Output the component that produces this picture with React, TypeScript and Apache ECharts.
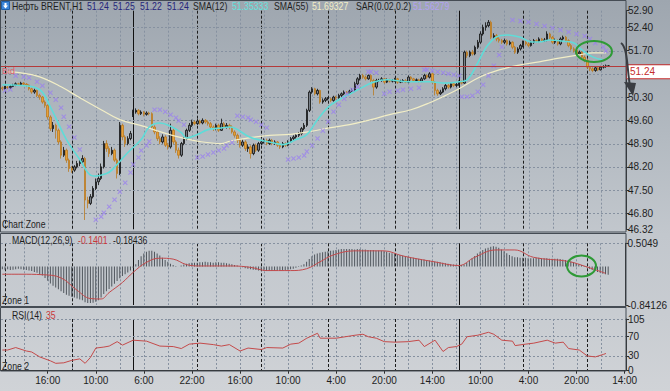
import React, { useEffect, useRef } from 'react';
import * as echarts from 'echarts';

const FONT = "'Liberation Sans', Arial, sans-serif";

// [open, close, low, high] per H1 candle
const ohlc: number[][] = [
  // 0
  [50.58, 50.55, 50.50, 50.62], [50.55, 50.60, 50.52, 50.64], [50.60, 50.58, 50.54, 50.63], [50.58, 50.62, 50.55, 50.66], [50.62, 50.66, 50.60, 50.70],
  [50.66, 50.70, 50.63, 50.74], [50.70, 50.68, 50.64, 50.73], [50.68, 50.72, 50.65, 50.76], [50.72, 50.69, 50.64, 50.75], [50.69, 50.66, 50.60, 50.72],
  // 10
  [50.66, 50.55, 50.50, 50.68], [50.55, 50.45, 50.40, 50.58], [50.45, 50.50, 50.40, 50.55], [50.50, 50.35, 50.30, 50.52], [50.35, 50.30, 50.22, 50.40],
  [50.30, 50.15, 50.10, 50.33], [50.15, 50.05, 49.98, 50.20], [50.05, 49.70, 49.62, 50.08], [49.70, 49.35, 49.28, 49.75], [49.35, 49.45, 49.25, 49.55],
  // 20
  [49.45, 49.30, 49.05, 49.50], [49.30, 48.95, 48.88, 49.35], [48.95, 48.55, 48.45, 49.00], [48.55, 48.70, 48.50, 48.80], [48.70, 48.40, 48.32, 48.75],
  [48.40, 48.15, 48.05, 48.45], [48.15, 48.10, 48.02, 48.22], [48.10, 48.20, 48.05, 48.25], [48.20, 48.30, 48.15, 48.38], [48.30, 48.35, 48.22, 48.42],
  // 30
  [48.35, 48.45, 48.30, 48.55], [48.45, 47.20, 46.60, 48.50], [47.20, 47.10, 46.95, 47.30], [47.10, 47.30, 47.05, 47.38], [47.30, 47.55, 47.25, 47.62],
  [47.55, 47.75, 47.50, 47.85], [47.75, 47.85, 47.65, 48.00], [47.85, 48.20, 47.80, 48.30], [48.20, 48.90, 48.15, 48.98], [48.90, 48.75, 48.65, 49.00],
  // 40
  [48.75, 48.60, 48.50, 48.82], [48.60, 48.70, 48.55, 48.80], [48.70, 48.40, 48.35, 48.75], [48.40, 48.00, 47.85, 48.45], [48.00, 49.45, 47.95, 49.55],
  [49.45, 49.10, 49.00, 49.50], [49.10, 48.90, 48.80, 49.15], [48.90, 49.05, 48.85, 49.12], [49.05, 49.20, 49.00, 49.28], [49.75, 49.85, 49.70, 49.92],
  // 50
  [49.85, 49.90, 49.80, 49.96], [49.90, 49.80, 49.75, 49.94], [49.80, 49.85, 49.76, 49.90], [49.85, 49.78, 49.72, 49.88], [49.78, 49.82, 49.74, 49.87],
  [49.82, 49.80, 49.75, 49.86], [49.80, 49.40, 49.35, 49.84], [49.40, 49.25, 49.18, 49.45], [49.25, 49.05, 48.98, 49.30], [49.05, 48.95, 48.88, 49.12],
  // 60
  [48.95, 49.10, 48.90, 49.18], [49.10, 48.85, 48.80, 49.15], [48.85, 48.80, 48.72, 48.92], [48.80, 49.30, 48.75, 49.50], [49.30, 48.95, 48.88, 49.35],
  [48.95, 48.70, 48.62, 49.00], [48.70, 48.55, 48.45, 48.78], [48.55, 48.90, 48.50, 48.95], [48.90, 49.05, 48.85, 49.10], [49.05, 49.30, 49.00, 49.35],
  // 70
  [49.30, 49.45, 49.25, 49.52], [49.45, 49.55, 49.40, 49.62], [49.55, 49.50, 49.45, 49.60], [49.50, 49.58, 49.46, 49.64], [49.58, 49.52, 49.47, 49.62],
  [49.52, 49.60, 49.48, 49.66], [49.60, 49.55, 49.50, 49.64], [49.55, 49.50, 49.44, 49.60], [49.50, 49.40, 49.35, 49.55], [49.40, 49.35, 49.28, 49.45],
  // 80
  [49.35, 49.45, 49.30, 49.50], [49.45, 49.30, 49.25, 49.50], [49.30, 49.50, 49.28, 49.65], [49.50, 49.40, 49.35, 49.55], [49.40, 49.45, 49.35, 49.52],
  [49.45, 49.40, 49.33, 49.50], [49.40, 49.25, 49.20, 49.45], [49.25, 49.15, 49.08, 49.30], [49.15, 49.00, 48.92, 49.20], [49.00, 48.85, 48.78, 49.05],
  // 90
  [48.85, 48.95, 48.80, 49.02], [48.95, 48.75, 48.68, 49.00], [48.75, 48.80, 48.65, 48.88], [48.80, 48.60, 48.45, 48.85], [48.60, 48.85, 48.55, 48.90],
  [48.85, 48.70, 48.65, 48.90], [48.70, 48.90, 48.65, 48.95], [48.90, 48.95, 48.85, 49.02], [48.95, 49.00, 48.90, 49.06], [49.00, 48.90, 48.85, 49.05],
  // 100
  [48.90, 49.00, 48.86, 49.05], [49.00, 48.90, 48.85, 49.04], [48.90, 48.95, 48.86, 49.00], [48.95, 48.85, 48.80, 48.98], [48.85, 48.80, 48.74, 48.90],
  [48.80, 48.90, 48.76, 48.95], [48.90, 48.85, 48.80, 48.94], [48.85, 48.95, 48.82, 49.00], [48.95, 49.05, 48.92, 49.10], [49.05, 49.10, 49.00, 49.15],
  // 110
  [49.10, 49.15, 49.05, 49.20], [49.15, 49.20, 49.10, 49.25], [49.20, 49.35, 49.15, 49.40], [49.35, 49.45, 49.30, 49.52], [49.45, 49.90, 49.40, 49.95],
  [49.90, 50.45, 49.85, 50.50], [50.45, 50.55, 50.40, 50.60], [50.55, 50.40, 50.35, 50.58], [50.40, 50.50, 50.35, 50.55], [50.50, 50.15, 50.10, 50.52],
  // 120
  [50.15, 50.20, 50.10, 50.26], [50.20, 50.25, 50.15, 50.30], [50.25, 50.25, 50.20, 50.30], [50.25, 50.20, 50.15, 50.28], [50.20, 50.30, 50.16, 50.34],
  [50.30, 50.28, 50.22, 50.34], [50.28, 50.35, 50.25, 50.40], [50.35, 50.40, 50.30, 50.44], [50.40, 50.45, 50.36, 50.50], [50.45, 50.42, 50.38, 50.48],
  // 130
  [50.42, 50.48, 50.38, 50.52], [50.48, 50.50, 50.44, 50.56], [50.50, 50.70, 50.46, 50.76], [50.70, 50.85, 50.66, 50.90], [50.85, 50.95, 50.80, 51.00],
  [50.95, 50.90, 50.85, 51.00], [50.90, 50.85, 50.80, 50.95], [50.85, 50.95, 50.82, 50.98], [50.95, 50.80, 50.75, 50.98], [50.80, 50.60, 50.35, 50.85],
  // 140
  [50.60, 50.80, 50.55, 50.85], [50.80, 50.80, 50.75, 50.85], [50.80, 50.85, 50.76, 50.90], [50.85, 50.75, 50.70, 50.88], [50.75, 50.82, 50.72, 50.86],
  [50.82, 50.78, 50.74, 50.85], [50.78, 50.80, 50.74, 50.84], [50.80, 50.85, 50.76, 50.88], [50.85, 50.75, 50.70, 50.88], [50.75, 50.78, 50.72, 50.82],
  // 150
  [50.78, 50.80, 50.74, 50.84], [50.80, 50.75, 50.72, 50.84], [50.75, 50.90, 50.72, 50.95], [50.90, 50.85, 50.80, 50.93], [50.85, 50.80, 50.76, 50.88],
  [50.80, 50.82, 50.76, 50.86], [50.82, 50.78, 50.74, 50.85], [50.78, 50.85, 50.75, 50.90], [50.85, 50.95, 50.82, 51.00], [50.95, 50.90, 50.85, 50.98],
  // 160
  [50.90, 51.00, 50.86, 51.05], [51.00, 50.75, 50.70, 51.02], [50.75, 50.50, 50.35, 50.78], [50.50, 50.40, 50.34, 50.55], [50.40, 50.45, 50.36, 50.52],
  [50.45, 50.55, 50.42, 50.60], [50.55, 50.65, 50.50, 50.70], [50.65, 50.60, 50.55, 50.70], [50.60, 50.70, 50.56, 50.75], [50.70, 50.65, 50.60, 50.74],
  // 170
  [50.65, 50.68, 50.60, 50.72], [50.68, 50.75, 50.64, 50.80], [50.75, 50.72, 50.68, 50.80], [50.72, 51.65, 50.70, 51.70], [51.65, 51.55, 51.48, 51.70],
  [51.55, 51.65, 51.50, 51.70], [51.65, 51.60, 51.55, 51.72], [51.60, 51.80, 51.56, 51.85], [51.80, 51.95, 51.75, 52.02], [51.95, 52.20, 51.90, 52.28],
  // 180
  [52.20, 52.40, 52.15, 52.48], [52.40, 52.45, 52.30, 52.55], [52.45, 52.55, 52.40, 52.62], [52.55, 52.10, 52.05, 52.60], [52.10, 52.15, 52.02, 52.22],
  [52.15, 52.05, 51.98, 52.20], [52.05, 52.00, 51.94, 52.10], [52.00, 51.95, 51.90, 52.05], [51.95, 52.00, 51.90, 52.06], [52.00, 51.90, 51.85, 52.04],
  // 190
  [51.90, 51.95, 51.86, 52.00], [51.95, 51.80, 51.74, 51.98], [51.80, 51.65, 51.60, 51.84], [51.65, 51.75, 51.60, 51.80], [51.75, 51.85, 51.70, 51.90],
  [51.85, 51.95, 51.80, 52.00], [51.95, 51.90, 51.85, 52.00], [51.90, 51.85, 51.80, 51.95], [51.85, 51.95, 51.82, 52.00], [51.95, 52.00, 51.90, 52.05],
  // 200
  [52.00, 51.98, 51.94, 52.04], [51.98, 52.05, 51.95, 52.10], [52.05, 52.00, 51.96, 52.08], [52.00, 52.02, 51.96, 52.08], [52.02, 52.20, 51.98, 52.28],
  [52.20, 52.10, 52.05, 52.24], [52.10, 51.95, 51.90, 52.14], [51.95, 52.00, 51.90, 52.06], [52.00, 51.90, 51.85, 52.04], [51.90, 52.05, 51.86, 52.10],
  // 210
  [52.05, 52.10, 52.00, 52.15], [52.10, 52.00, 51.95, 52.14], [52.00, 51.85, 51.80, 52.04], [51.85, 51.75, 51.70, 51.90], [51.75, 51.70, 51.64, 51.80],
  [51.70, 51.60, 51.55, 51.74], [51.60, 51.65, 51.56, 51.70], [51.65, 51.50, 51.45, 51.68], [51.50, 51.40, 51.35, 51.55], [51.40, 51.20, 51.15, 51.45],
  // 220
  [51.20, 51.15, 51.08, 51.24], [51.15, 51.10, 51.05, 51.20], [51.10, 51.18, 51.06, 51.22], [51.18, 51.12, 51.08, 51.22], [51.12, 51.20, 51.10, 51.24],
  [51.20, 51.22, 51.16, 51.26], [51.22, 51.24, 51.18, 51.28], [51.24, 51.24, 51.22, 51.25],
];

// [candle index, value]
const sma12: number[][] = [
  [0, 50.67], [7, 50.65], [14, 50.52], [18, 50.0], [24, 49.02], [29, 48.42], [33, 47.95], [35, 47.92], [39, 48.0], [41, 48.1],
  [47, 48.63], [52, 49.02], [55, 49.4], [59, 49.52], [63, 49.42], [67, 49.23], [69, 49.07], [73, 49.17], [77, 49.32], [82, 49.37],
  [85, 49.4], [93, 49.08], [100, 48.95], [105, 48.87], [110, 49.02], [114, 49.17], [118, 49.62], [122, 50.0], [126, 50.22], [131, 50.43],
  [135, 50.6], [139, 50.75], [144, 50.82], [152, 50.76], [160, 50.76], [166, 50.72], [171, 50.76], [174, 50.82], [178, 51.33], [181, 51.78],
  [185, 52.11], [189, 52.17], [194, 52.1], [198, 51.96], [201, 51.96], [205, 52.02], [210, 51.98], [214, 51.93], [217, 51.72], [221, 51.51],
  [225, 51.42],
];

const sma55: number[][] = [
  [2, 51.06], [7, 51.03], [14, 50.91], [22, 50.61], [29, 50.28], [37, 49.92], [44, 49.62], [52, 49.44], [59, 49.26], [67, 49.08],
  [74, 48.96], [82, 48.9], [85, 48.97], [93, 49.08], [100, 49.15], [108, 49.18], [115, 49.26], [123, 49.38], [130, 49.47], [138, 49.62],
  [145, 49.77], [153, 49.92], [160, 50.13], [166, 50.35], [171, 50.55], [179, 50.91], [186, 51.12], [194, 51.27], [201, 51.36], [209, 51.48],
  [216, 51.57], [221, 51.63], [226, 51.63],
];

const sar: number[][] = [
  [1, 50.5], [3, 50.53],
  [5, 50.94], [8, 50.91], [10, 50.88], [13, 50.76], [15, 50.64], [18, 50.43], [20, 50.22], [22, 49.98], [23, 49.71], [25, 49.41], [27, 49.08], [29, 48.72],
  [35, 46.61], [37, 46.7], [38, 46.82], [40, 47.0], [42, 47.21], [44, 47.45], [46, 47.72], [48, 48.03], [49, 48.27], [51, 48.48], [52, 48.69], [54, 48.84], [55, 48.96],
  [57, 49.92], [59, 49.92], [61, 49.86], [63, 49.77], [65, 49.68], [66, 49.59], [68, 49.47],
  [73, 48.48], [75, 48.51], [77, 48.57], [79, 48.63], [81, 48.69], [83, 48.75], [84, 48.84], [86, 48.93],
  [88, 49.74], [90, 49.71], [92, 49.68], [93, 49.62], [95, 49.56], [97, 49.47], [99, 49.38],
  [107, 48.42], [109, 48.45], [111, 48.48], [113, 48.54], [114, 48.66], [116, 48.84], [118, 49.05], [120, 49.29], [122, 49.56], [124, 49.86], [126, 50.07], [128, 50.25], [129, 50.4], [131, 50.52], [133, 50.61],
  [137, 51.06], [138, 51.06], [140, 51.03],
  [143, 50.4], [145, 50.46], [148, 50.49], [150, 50.52], [153, 50.55], [156, 50.58],
  [158, 51.12], [159, 51.12], [161, 51.09], [163, 51.06], [165, 51.03], [167, 51.0], [169, 50.97], [171, 50.94],
  [172, 50.31], [174, 50.31], [176, 50.34], [178, 50.46], [180, 50.67], [182, 50.94], [184, 51.24], [186, 51.57], [187, 51.81],
  [191, 52.62], [194, 52.59], [197, 52.56], [200, 52.5], [203, 52.44], [206, 52.38], [209, 52.32], [212, 52.26], [215, 52.2], [218, 52.14], [220, 52.05], [222, 51.93], [225, 51.81], [226, 51.69],
];

const macdHist: number[] = [
  -0.06, -0.07, -0.06, -0.08, -0.07, -0.06, -0.05, -0.06, -0.07, -0.08, -0.09, -0.10, -0.12, -0.14, -0.17, -0.20,
  -0.25, -0.31, -0.37, -0.42,
  -0.46, -0.50, -0.54, -0.58, -0.62,
  -0.64, -0.66, -0.68, -0.70, -0.72, -0.74, -0.78, -0.80,
  -0.80, -0.79, -0.77, -0.74,
  -0.68, -0.60, -0.54, -0.49,
  -0.44, -0.38, -0.32, -0.26,
  -0.21, -0.17, -0.13, -0.09, -0.03,
  0.05, 0.14, 0.22, 0.28, 0.32, 0.34,
  0.34, 0.32, 0.28, 0.24, 0.19, 0.14, 0.10, 0.06,
  0.03, 0.01, 0.0, 0.02, 0.04, 0.06, 0.07, 0.08, 0.08,
  0.08, 0.09, 0.09, 0.10, 0.09, 0.09, 0.08, 0.09, 0.09, 0.08, 0.08, 0.07, 0.06, 0.05, 0.03, 0.02, 0.0,
  -0.02, -0.04, -0.05, -0.06, -0.07, -0.08, -0.09, -0.09, -0.10, -0.10,
  -0.10, -0.10, -0.09, -0.09, -0.09, -0.08, -0.08, -0.07, -0.06, -0.05, -0.03, -0.01,
  0.02, 0.05, 0.10, 0.16, 0.22, 0.26, 0.28, 0.30, 0.31, 0.32, 0.33, 0.34, 0.35,
  0.36, 0.37, 0.38, 0.38, 0.38, 0.38, 0.38, 0.37, 0.38, 0.38, 0.37, 0.37, 0.36, 0.36, 0.36, 0.35, 0.35, 0.34, 0.33,
  0.32, 0.30, 0.29, 0.28, 0.26, 0.25, 0.24, 0.22, 0.21, 0.20, 0.19, 0.18, 0.17, 0.16, 0.15, 0.14, 0.13, 0.12, 0.11, 0.10, 0.09, 0.08, 0.07, 0.06, 0.05, 0.04, 0.03, 0.02,
  0.03, 0.04, 0.08,
  0.13, 0.18, 0.23, 0.28, 0.32, 0.36, 0.39, 0.41, 0.43, 0.44, 0.43, 0.41,
  0.37, 0.33, 0.29, 0.25, 0.22,
  0.20, 0.20, 0.19, 0.19, 0.19, 0.18, 0.18, 0.18, 0.19, 0.19, 0.18, 0.18, 0.18, 0.17, 0.17, 0.17, 0.17, 0.16, 0.15, 0.14, 0.13,
  0.11, 0.09, 0.07, 0.05, 0.03, 0.01, -0.02, -0.05,
  -0.08, -0.10, -0.12, -0.14, -0.16, -0.17, -0.18,
];

const macdSignal: number[][] = [
  [0, -0.17], [7, -0.17], [15, -0.18], [22, -0.25], [28, -0.52], [33, -0.7], [37, -0.71], [40, -0.57], [45, -0.35], [49, -0.13],
  [54, 0.09], [59, 0.18], [64, 0.16], [69, 0.04], [74, 0.01], [86, 0.01], [93, -0.02], [99, -0.09], [108, -0.09], [114, -0.05],
  [119, 0.1], [124, 0.25], [132, 0.34], [143, 0.34], [150, 0.23], [162, 0.1], [171, 0.02], [177, 0.2], [185, 0.36], [192, 0.36],
  [199, 0.2], [212, 0.11], [219, -0.01], [226, -0.15],
];

const rsi: number[][] = [
  [0, 42], [2, 42], [5, 47], [9, 40], [11, 38], [14, 28], [18, 20], [20, 15], [23, 16], [26, 21],
  [29, 24], [31, 15], [33, 27], [35, 46], [38, 48], [40, 50], [43, 59], [45, 52], [49, 62], [54, 60],
  [59, 50], [64, 49], [67, 45], [70, 54], [74, 56], [79, 53], [82, 50], [85, 53], [89, 40], [92, 46],
  [97, 43], [99, 47], [105, 46], [108, 54], [111, 56], [114, 66], [118, 76], [119, 66], [125, 66], [132, 72],
  [135, 74], [137, 69], [140, 66], [143, 59], [147, 58], [152, 59], [156, 62], [158, 49], [162, 62], [165, 39],
  [167, 47], [170, 49], [172, 54], [174, 69], [178, 72], [182, 78], [184, 74], [187, 62], [191, 60], [192, 51],
  [196, 54], [199, 56], [204, 62], [207, 56], [210, 58], [212, 45], [216, 42], [219, 30], [222, 28], [225, 33],
  [226, 35],
];

const timeLabels = ['16:00', '10:00', '6:00', '22:00', '16:00', '10:00', '4:00', '20:00', '14:00', '10:00', '4:00', '20:00', '14:00'];
const priceLabels = [46.32, 46.8, 47.5, 48.2, 48.9, 49.6, 50.3, 51.7, 52.4, 52.9];
const priceGrid = [46.8, 47.5, 48.2, 48.9, 49.6, 50.3, 51.0, 51.7, 52.4];
const macdRange = [-0.84126, 0.5049];
const rsiLabels = [0, 30, 70, 105];
const rsiGrid = [30, 70, 105];
const headerOHLC = [51.24, 51.25, 51.22, 51.24];
const lastPrice = 51.24;
const daySeparators = [1, 26, 73, 97, 122, 147, 195, 219];
const weekSeparators = [49, 171];

const N = 234;
const LABEL_START = 17;
const LABEL_STEP = 18;
const categories = Array.from({ length: N }, (_, i) => String(i));
const isLabelIdx = (i: number) => i >= LABEL_START && (i - LABEL_START) % LABEL_STEP === 0;

const lightLines: number[][] = [];
for (let i = 8; i < 230; i += 9) lightLines.push([i, 0]);
const vLines = [...lightLines, ...daySeparators.map((i) => [i, 1]), ...weekSeparators.map((i) => [i, 2])];

const vStyles = [
  { stroke: '#8691a0', lineWidth: 1, lineDash: [2, 2] },
  { stroke: '#1c1c1c', lineWidth: 1, lineDash: [3, 2] },
  { stroke: '#111111', lineWidth: 1 },
];
const hStyle = { stroke: '#8691a0', lineWidth: 1, lineDash: [2, 2] };

function renderV(params: any, api: any) {
  const cs = params.coordSys;
  const x = Math.round(api.coord([api.value(0), 0])[0]) + 0.5;
  return { type: 'line', silent: true, shape: { x1: x, y1: cs.y, x2: x, y2: cs.y + cs.height }, style: vStyles[api.value(1)] };
}
function renderH(params: any, api: any) {
  const cs = params.coordSys;
  const y = Math.round(api.coord([0, api.value(1)])[1]) + 0.5;
  return { type: 'line', silent: true, shape: { x1: cs.x, y1: y, x2: cs.x + cs.width, y2: y }, style: hStyle };
}

const axisTextStyle = { color: '#1e1e1e', fontSize: 10, fontFamily: FONT };

// narrow terminal-style text: regular font squeezed horizontally
function txt(x: number, y: number, text: string, fill = '#1e1e1e') {
  return {
    type: 'text', x, y, z: 50, silent: true, scaleX: 0.83,
    style: { text, fill, fontSize: 10.5, fontFamily: FONT, verticalAlign: 'middle' },
  };
}

const gridDefs = [
  { left: 1, right: 44, top: 10.7, height: 218.6 },
  { left: 1, right: 44, top: 243.3, height: 61.7 },
  { left: 1, right: 44, top: 319, height: 51.7 },
];

function gridSeries(g: number, hVals: number[]) {
  return [
    { type: 'custom', xAxisIndex: g, yAxisIndex: g, z: 0, silent: true, renderItem: renderV, data: vLines },
    { type: 'custom', xAxisIndex: g, yAxisIndex: g, z: 0, silent: true, renderItem: renderH, data: hVals.map((v) => [0, v]) },
  ];
}

const option: any = {
  animation: false,
  backgroundColor: 'transparent',
  grid: gridDefs,
  xAxis: [0, 1, 2].map((g) => ({
    type: 'category',
    gridIndex: g,
    data: categories,
    boundaryGap: true,
    show: g === 2,
    axisLine: { show: true, lineStyle: { color: '#2a2a2a' } },
    axisTick: { show: true, interval: isLabelIdx, alignWithLabel: true, length: 3, lineStyle: { color: '#2a2a2a' } },
    axisLabel: {
      ...axisTextStyle,
      interval: isLabelIdx,
      margin: 5,
      formatter: (_v: string, i: number) => (isLabelIdx(i) ? timeLabels[(i - LABEL_START) / LABEL_STEP] : ''),
    },
    splitLine: { show: false },
  })),
  yAxis: [
    {
      type: 'value', gridIndex: 0, position: 'right', min: 46.32, max: 52.9,
      axisLine: { show: true, lineStyle: { color: '#2a2a2a' } },
      axisTick: { show: true, length: 3, customValues: priceLabels, lineStyle: { color: '#2a2a2a' } },
      axisLabel: { ...axisTextStyle, margin: 2, customValues: priceLabels, formatter: (v: number) => v.toFixed(2) },
      splitLine: { show: false },
    },
    {
      type: 'value', gridIndex: 1, position: 'right', min: macdRange[0], max: macdRange[1],
      axisLine: { show: true, lineStyle: { color: '#2a2a2a' } },
      axisTick: { show: true, length: 3, customValues: macdRange, lineStyle: { color: '#2a2a2a' } },
      axisLabel: { ...axisTextStyle, margin: 2, customValues: macdRange, formatter: (v: number) => String(v) },
      splitLine: { show: false },
    },
    {
      type: 'value', gridIndex: 2, position: 'right', min: 0, max: 105,
      axisLine: { show: true, lineStyle: { color: '#2a2a2a' } },
      axisTick: { show: true, length: 3, customValues: rsiLabels, lineStyle: { color: '#2a2a2a' } },
      axisLabel: { ...axisTextStyle, margin: 2, customValues: rsiLabels, formatter: (v: number) => String(v) },
      splitLine: { show: false },
    },
  ],
  series: [
    ...gridSeries(0, priceGrid),
    {
      type: 'candlestick', xAxisIndex: 0, yAxisIndex: 0, z: 2, barWidth: 2,
      data: ohlc,
      itemStyle: { color: '#7a8189', color0: '#e8a036', borderColor: '#0c0c0c', borderColor0: '#b97a22', borderWidth: 0.8 },
      markLine: {
        silent: true, symbol: 'none', animation: false,
        lineStyle: { color: '#b53a3a', width: 1, type: 'solid' },
        data: [
          {
            yAxis: lastPrice,
            label: {
              show: true, position: 'end', formatter: lastPrice.toFixed(2), color: '#c42b2b', backgroundColor: '#ffffff',
              borderColor: '#c42b2b', borderWidth: 1, padding: [2, 17, 1, 3], fontSize: 10, fontFamily: FONT, offset: [0, 6], distance: 1,
            },
          },
          {
            yAxis: lastPrice,
            label: { show: true, position: 'insideStartBottom', formatter: 'Bid', color: '#e0606a', fontSize: 9, fontFamily: FONT, distance: 1 },
          },
        ],
      },
    },
    { type: 'line', xAxisIndex: 0, yAxisIndex: 0, z: 3, data: sma55, smooth: 0.4, symbol: 'none', lineStyle: { color: '#f2eec6', width: 1.2 } },
    { type: 'line', xAxisIndex: 0, yAxisIndex: 0, z: 3, data: sma12, smooth: 0.4, symbol: 'none', lineStyle: { color: '#5fdcd8', width: 1.6 } },
    {
      type: 'scatter', xAxisIndex: 0, yAxisIndex: 0, z: 4, data: sar, symbolSize: 5,
      symbol: 'path://M0,1.5L1.5,0L5,3.5L8.5,0L10,1.5L6.5,5L10,8.5L8.5,10L5,6.5L1.5,10L0,8.5L3.5,5Z',
      itemStyle: { color: '#9b82ee' },
    },
    ...gridSeries(1, [macdRange[1]]),
    { type: 'bar', xAxisIndex: 1, yAxisIndex: 1, z: 2, data: macdHist, barWidth: 1, itemStyle: { color: '#4f555c' } },
    { type: 'line', xAxisIndex: 1, yAxisIndex: 1, z: 3, data: macdSignal, smooth: 0.4, symbol: 'none', lineStyle: { color: '#c24a4c', width: 1 } },
    ...gridSeries(2, rsiGrid),
    { type: 'line', xAxisIndex: 2, yAxisIndex: 2, z: 3, data: rsi, symbol: 'none', lineStyle: { color: '#c44a4a', width: 1 } },
  ],
  graphic: [
    { type: 'rect', z: 40, silent: true, shape: { x: 0.5, y: 0.5, width: 625.5, height: 231.5 }, style: { fill: 'none', stroke: '#454c54', lineWidth: 1 } },
    { type: 'rect', z: 40, silent: true, shape: { x: 0.5, y: 233.5, width: 625.5, height: 73 }, style: { fill: 'none', stroke: '#454c54', lineWidth: 1 } },
    { type: 'rect', z: 40, silent: true, shape: { x: 0.5, y: 307.5, width: 625.5, height: 63.5 }, style: { fill: 'none', stroke: '#454c54', lineWidth: 1 } },
    { type: 'rect', z: 50, silent: true, shape: { x: 1.5, y: 1.5, width: 8, height: 8 }, style: { fill: '#3d86d8', stroke: '#1f5ea6', lineWidth: 1 } },
    { type: 'polygon', z: 51, silent: true, shape: { points: [[4.5, 3], [6.5, 3], [6.5, 5.5], [8, 5.5], [5.5, 8.5], [3, 5.5], [4.5, 5.5]] }, style: { fill: '#ffffff' } },
    txt(12, 6, 'Нефть BRENT,H1'),
    txt(87, 6, headerOHLC[0].toFixed(2), '#25257a'),
    txt(113, 6, headerOHLC[1].toFixed(2), '#25257a'),
    txt(140, 6, headerOHLC[2].toFixed(2), '#25257a'),
    txt(167, 6, headerOHLC[3].toFixed(2), '#25257a'),
    txt(193, 6, 'SMA(12)'),
    txt(232, 6, '51.35333', '#66e2de'),
    txt(274, 6, 'SMA(55)'),
    txt(312, 6, '51.69327', '#f2eec6'),
    txt(356, 6, 'SAR(0.02,0.2)'),
    txt(413, 6, '51.56279', '#b3a2f2'),
    txt(2, 224, 'Chart Zone'),
    txt(12, 240, 'MACD(12,26,9)'),
    txt(78, 240, '-0.1401', '#c8383a'),
    txt(113, 240, '-0.18436'),
    txt(2, 300, 'Zone 1'),
    txt(12, 315, 'RSI(14)'),
    txt(46, 315, '35', '#c8383a'),
    txt(2, 366, 'Zone 2'),
    { type: 'ellipse', z: 60, silent: true, shape: { cx: 594, cy: 51.5, rx: 18, ry: 10.5 }, style: { fill: 'none', stroke: '#2e9a36', lineWidth: 2 } },
    { type: 'ellipse', z: 60, silent: true, shape: { cx: 581.5, cy: 266, rx: 14.5, ry: 10.5 }, style: { fill: 'none', stroke: '#2e9a36', lineWidth: 2 } },
    { type: 'bezierCurve', z: 60, silent: true, shape: { x1: 621, y1: 43, cpx1: 628, cpy1: 48, cpx2: 627, cpy2: 70, x2: 630, y2: 86 }, style: { fill: 'none', stroke: '#3a3d42', lineWidth: 2 } },
    { type: 'polygon', z: 60, silent: true, shape: { points: [[624, 82], [636, 83], [633, 96]] }, style: { fill: '#3a3d42' } },
  ],
};

export default function App() {
  const ref = useRef<HTMLDivElement>(null);
  useEffect(() => {
    if (!ref.current) return;
    const chart = echarts.init(ref.current, null, { renderer: 'svg' });
    chart.setOption(option);
    return () => chart.dispose();
  }, []);
  return (
    <div
      ref={ref}
      style={{
        position: 'fixed', left: 0, top: 0, width: 670, height: 391,
        background: 'linear-gradient(to bottom, #9ea6af 0%, #b3bac1 35%, #c2c7cd 60%, #c8ccd1 80%, #d0d3d7 100%)',
      }}
    />
  );
}
